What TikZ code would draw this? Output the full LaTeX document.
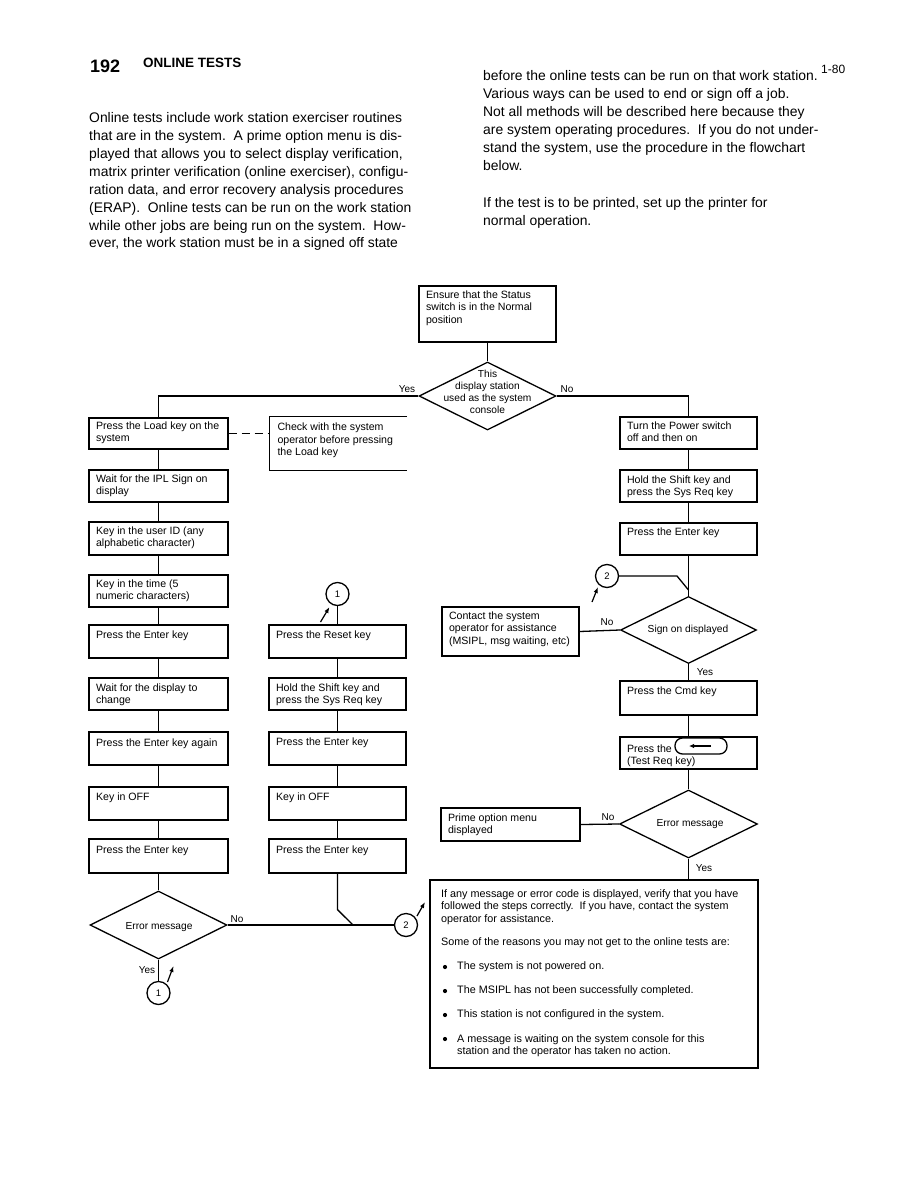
\documentclass[tikz,border=0pt]{standalone}
\usepackage{fontspec}
\setmainfont{Liberation Sans}
\usetikzlibrary{shapes.geometric,arrows.meta,calc}
\newcommand\fbx[7]{%
  \node[fbox, minimum width=#4, minimum height=#5] (#1) at (#2+#4/2, #3+#5/2) {};
  \node[ftxt] (#1-t) at ([shift={(7.5,#6-4)}]#1.north west) {#7};
}
\begin{document}
\begin{tikzpicture}[x=1pt,y=-1pt,
  fbox/.style={draw,line width=1.3pt,inner sep=0pt},
  ftxt/.style={font=\fontsize{10.6}{12.5}\selectfont,align=left,inner sep=0pt,anchor=north west},
  btxt/.style={font=\fontsize{10.8}{12.5}\selectfont,align=left,inner sep=0pt},
  dtxt/.style={font=\fontsize{10.2}{12}\selectfont,align=center,inner sep=0pt},
  lab/.style={font=\fontsize{10}{12}\selectfont,inner sep=0pt},
  dia/.style={draw,diamond,line width=1.3pt,inner sep=0pt},
  conn/.style={draw,circle,line width=1.3pt,minimum size=23pt,inner sep=0pt,font=\fontsize{9.5}{11}\selectfont},
  wire/.style={line width=1.3pt},
  bul/.style={circle,fill=black,inner sep=0pt,minimum size=4.2pt},
  flowarr/.style={line width=1.2pt,-{Latex[length=6pt,width=4.5pt]}},
  body/.style={font=\fontsize{13.9}{17.9}\selectfont,anchor=mid west,inner sep=0pt}
]
\useasboundingbox[fill=white] (0,0) rectangle (918,1188);

% header
\node[font=\fontsize{18}{20}\selectfont\bfseries, anchor=base west, inner sep=0pt] (pg) at (90,72.5) {192};
\node[font=\fontsize{13.5}{15}\selectfont\bfseries, anchor=base west, inner sep=0pt] (ttl) at (143,68) {ONLINE TESTS};
\node[font=\fontsize{12}{14}\selectfont, anchor=base west, inner sep=0pt] (pnum) at (821,74) {1-80};

\foreach \t [count=\i from 0] in {
 {Online tests include work station exerciser routines},
 {that are in the system.\ \ A prime option menu is dis-},
 {played that allows you to select display verification,},
 {matrix printer verification (online exerciser), configu-},
 {ration data, and error recovery analysis procedures},
 {(ERAP).\ \ Online tests can be run on the work station},
 {while other jobs are being run on the system.\ \ How-},
 {ever, the work station must be in a signed off state}}
 \node[body] (lp\i) at (89,120+17.9*\i) {\t};

\foreach \t [count=\i from 0] in {
 {before the online tests can be run on that work station.},
 {Various ways can be used to end or sign off a job.},
 {Not all methods will be described here because they},
 {are system operating procedures.\ \ If you do not under-},
 {stand the system, use the procedure in the flowchart},
 {below.}}
 \node[body] (rp\i) at (483,78+17.9*\i) {\t};
\node[body] (rp6) at (483,205) {If the test is to be printed, set up the printer for};
\node[body] (rp7) at (483,223) {normal operation.};

% boxes
\fbx{eb}{419}{286}{137}{56}{9}{Ensure that the Status\\switch is in the Normal\\position}
\fbx{l1}{89}{418}{139}{31}{8}{Press the Load key on the\\system}
\fbx{l2}{89}{470}{139}{32}{9}{Wait for the IPL Sign on\\display}
\fbx{l3}{89}{522}{139}{33}{9}{Key in the user ID (any\\alphabetic character)}
\fbx{l4}{89}{575}{139}{32}{9}{Key in the time (5\\numeric characters)}
\fbx{l5}{89}{625}{139}{33}{10}{Press the Enter key}
\fbx{l6}{89}{678}{139}{32}{10}{Wait for the display to\\change}
\fbx{l7}{89}{732}{139}{33}{11}{Press the Enter key again}
\fbx{l8}{89}{787}{139}{33}{10}{Key in OFF}
\fbx{l9}{89}{839}{139}{34}{11}{Press the Enter key}
\fbx{m1}{269}{625}{137}{33}{10}{Press the Reset key}
\fbx{m2}{269}{678}{137}{32}{10}{Hold the Shift key and\\press the Sys Req key}
\fbx{m3}{269}{732}{137}{33}{10}{Press the Enter key}
\fbx{m4}{269}{787}{137}{33}{10}{Key in OFF}
\fbx{m5}{269}{839}{137}{34}{11}{Press the Enter key}
\fbx{r1}{620}{417}{137}{32}{9}{Turn the Power switch\\off and then on}
\fbx{r2}{620}{470}{137}{32}{10}{Hold the Shift key and\\press the Sys Req key}
\fbx{r3}{620}{523}{137}{32}{9}{Press the Enter key}
\fbx{r4}{620}{681}{137}{34}{10}{Press the Cmd key}
\fbx{r5}{620}{737}{137}{32}{12}{Press the\\(Test Req key)}
\fbx{cb}{442}{607}{137}{49}{9}{Contact the system\\operator for assistance\\(MSIPL, msg waiting, etc)}
\fbx{pb}{441}{808}{139}{33}{10}{Prime option menu\\displayed}

% key symbol
\node[draw, line width=1.3pt, rounded corners=7.5pt, minimum width=52pt, minimum height=16pt, inner sep=0pt] (key) at (701,746) {};
\draw[line width=1.5pt, -{Latex[length=5pt,width=4.5pt]}] ([xshift=10pt]key.center) -- ([xshift=-12pt]key.center);

% check box (open right)
\node[minimum width=137pt, minimum height=53pt, inner sep=0pt] (chk) at (338.5,443.5) {};
\draw[wire] (chk.north east) -- (chk.north west) -- (chk.south west) -- (chk.south east);
\node[ftxt] (chk-t) at ([shift={(7.5,6)}]chk.north west) {Check with the system\\operator before pressing\\the Load key};

% big box
\node[fbox, minimum width=328pt, minimum height=188pt] (bb) at (594,974) {};
\node[btxt, anchor=north west] (bb1) at (441,889) {If any message or error code is displayed, verify that you have\\followed the steps correctly.\ \ If you have, contact the system\\operator for assistance.};
\node[btxt, anchor=mid west] (bb2) at (441,943) {Some of the reasons you may not get to the online tests are:};
\node[bul] (bu1) at (445,967) {};
\node[btxt, anchor=mid west] (bt1) at (457,967) {The system is not powered on.};
\node[bul] (bu2) at (445,991) {};
\node[btxt, anchor=mid west] (bt2) at (457,991) {The MSIPL has not been successfully completed.};
\node[bul] (bu3) at (445,1015) {};
\node[btxt, anchor=mid west] (bt3) at (457,1015) {This station is not configured in the system.};
\node[bul] (bu4) at (445,1039) {};
\node[btxt, anchor=north west] (bt4) at (457,1034) {A message is waiting on the system console for this\\station and the operator has taken no action.};

% diamonds
\node[dia, minimum width=137pt, minimum height=68pt] (d0) at (487.5,396) {};
\node[dtxt] (d0-t) at (487.5,392) {This\\display station\\used as the system\\console};
\node[dia, minimum width=137pt, minimum height=68pt] (dl) at (158.5,925) {};
\node[dtxt] (dl-t) at (159,927) {Error message};
\node[dia, minimum width=136pt, minimum height=67pt] (ds) at (688.5,630) {};
\node[dtxt] (ds-t) at (688,630) {Sign on displayed};
\node[dia, minimum width=138pt, minimum height=68pt] (de) at (688.5,824) {};
\node[dtxt] (de-t) at (690,824) {Error message};

% connectors (circles)
\node[conn] (c1a) at (337.5,594) {1};
\node[conn] (c1b) at (158.5,993) {1};
\node[conn] (c2a) at (406,925) {2};
\node[conn] (c2b) at (607,576) {2};

% labels
\node[lab] (y0) at (407,389) {Yes};
\node[lab] (n0) at (567,389) {No};
\node[lab] (nl) at (237,919) {No};
\node[lab] (yl) at (147,970) {Yes};
\node[lab] (ns) at (607,622) {No};
\node[lab] (ys) at (705,672) {Yes};
\node[lab] (ne) at (608,817) {No};
\node[lab] (ye) at (704,868) {Yes};

% wires
\draw[wire] (eb.south) -- (d0.north);
\draw[wire] (d0.west) -| (l1.north);
\draw[wire] (d0.east) -| (r1.north);
\draw[wire, dashed, dash pattern=on 8pt off 5pt] (l1.east) -- (l1.east -| chk.west);
\foreach \a/\b in {l1/l2,l2/l3,l3/l4,l4/l5,l5/l6,l6/l7,l7/l8,l8/l9,m1/m2,m2/m3,m3/m4,m4/m5,r1/r2,r2/r3,r4/r5}
  \draw[wire] (\a.south) -- (\b.north);
\draw[wire] (l9.south) -- (dl.north);
\draw[wire] (dl.south) -- (c1b.north);
\draw[wire] (dl.east) -- (c2a.west);
\coordinate (j1) at (353,925);
\draw[wire] (m5.south) -- ([yshift=-36pt]m5.south) -- (j1);
\draw[wire] (c1a.south) -- (m1.north);
\draw[wire] (r3.south) -- (ds.north);
\coordinate (k2) at (677,576);
\coordinate (j2) at (688.5,590);
\draw[wire] (c2b.east) -- (k2) -- (j2);
\draw[wire] (ds.west) -- (cb.east);
\draw[wire] (ds.south) -- (r4.north);
\draw[wire] (r5.south) -- (de.north);
\draw[wire] (de.west) -- (pb.east);
\draw[wire] (de.south) -- (de.south |- bb.north);

% flow arrows
\draw[flowarr] ([shift={(-17,28)}]c1a.center) -- ([shift={(-8,13)}]c1a.center);
\draw[flowarr] ([shift={(9,-11)}]c1b.center) -- ([shift={(15,-27)}]c1b.center);
\draw[flowarr] ([shift={(11,-9)}]c2a.center) -- ([shift={(19,-23)}]c2a.center);
\draw[flowarr] ([shift={(-15,26)}]c2b.center) -- ([shift={(-9,11)}]c2b.center);
\end{tikzpicture}
\end{document}
